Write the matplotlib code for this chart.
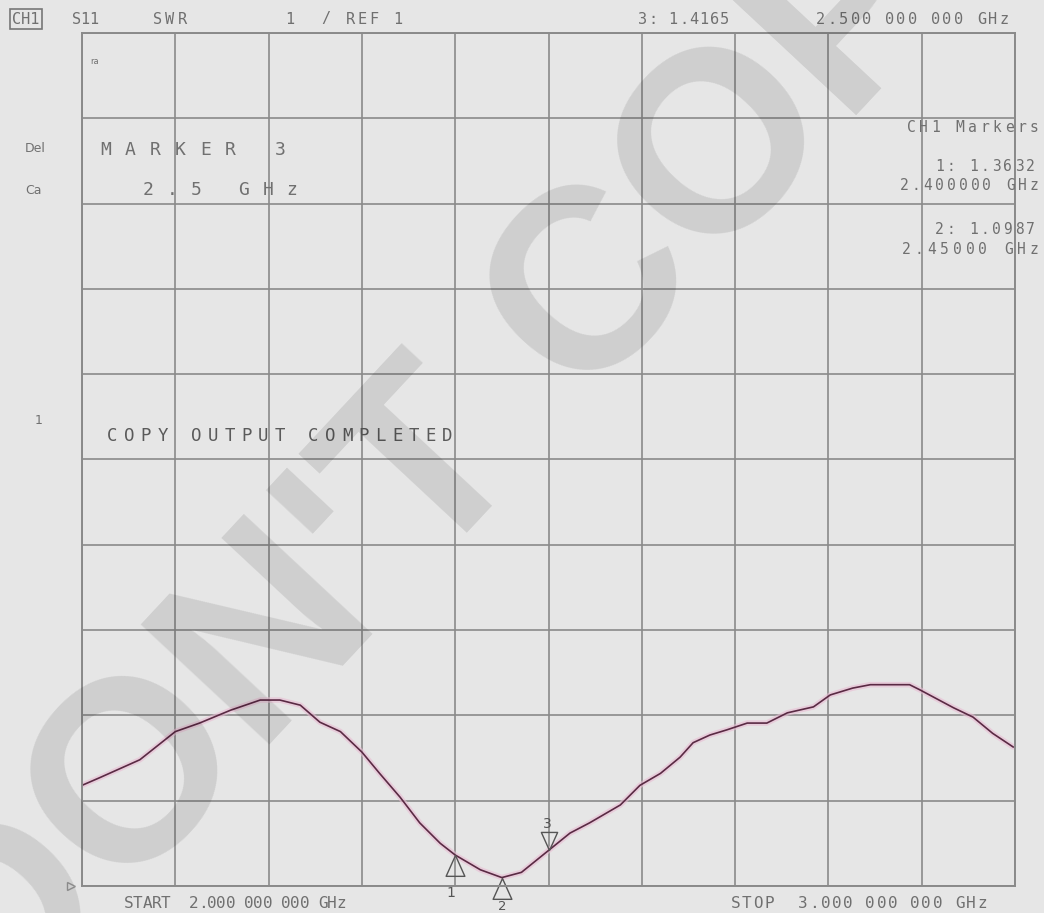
import numpy as np
import matplotlib
matplotlib.use('Agg')
import matplotlib.pyplot as plt

# S11 SWR trace (GHz, SWR)
freq = [2.000, 2.019, 2.062, 2.100, 2.126, 2.159, 2.191, 2.212, 2.234, 2.255,
        2.277, 2.300, 2.319, 2.341, 2.362, 2.384, 2.400, 2.427, 2.450, 2.471,
        2.500, 2.523, 2.544, 2.577, 2.598, 2.620, 2.641, 2.655, 2.673, 2.691,
        2.713, 2.734, 2.756, 2.784, 2.802, 2.826, 2.845, 2.887, 2.898, 2.934,
        2.955, 2.976, 2.998]
swr = [2.18, 2.27, 2.48, 2.81, 2.91, 3.06, 3.18, 3.18, 3.12, 2.92,
       2.81, 2.57, 2.32, 2.04, 1.74, 1.50, 1.3632, 1.19, 1.0987, 1.16,
       1.4165, 1.62, 1.74, 1.95, 2.18, 2.32, 2.51, 2.68, 2.77, 2.83,
       2.91, 2.91, 3.03, 3.10, 3.24, 3.32, 3.36, 3.36, 3.30, 3.09,
       2.98, 2.79, 2.63]

mk_freq = [2.40, 2.45, 2.50]
mk_swr = [1.3632, 1.0987, 1.4165]
mk_names = ['1', '2', '3']

bg = '#e6e6e6'
txt = '#707070'
mono = 'DejaVu Sans Mono'

fig = plt.figure(figsize=(10.44, 9.13), dpi=100, facecolor=bg)
ax = fig.add_axes([82/1044, 1-886/913, (1015-82)/1044, (886-33)/913])
ax.set_facecolor(bg)
ax.set_xlim(2.0, 3.0)
ax.set_ylim(1, 11)
ax.set_xticks(np.linspace(2.0, 3.0, 11))
ax.set_yticks(np.arange(1, 12))
ax.tick_params(length=0, labelbottom=False, labelleft=False)
ax.grid(True, color='#8a8a8a', lw=1.2)
for s in ax.spines.values():
    s.set_color('#8a8a8a')
    s.set_linewidth(1.4)

# trace with the pinkish halo of the screenshot
ax.plot(freq, swr, color='#e9bcd3', lw=4, alpha=0.6, solid_capstyle='round')
ax.plot(freq, swr, color='#5a2a44', lw=1.2)

# marker triangles anchored at their tip
up = [(0, 0), (-0.45, -1), (0.45, -1), (0, 0)]
down = [(0, 0), (-0.45, 1), (0.45, 1), (0, 0)]
ax.plot(mk_freq[:2], mk_swr[:2], ls='none', marker=up, ms=30,
        mfc='none', mec='#555555', mew=1.0, clip_on=False)
ax.plot(mk_freq[2:], mk_swr[2:], ls='none', marker=down, ms=26,
        mfc='none', mec='#555555', mew=1.0, clip_on=False)
ax.annotate(mk_names[0], (mk_freq[0], mk_swr[0]), xytext=(-3, -22),
            textcoords='offset points', ha='center', va='top',
            fontsize=10, color='#555555', annotation_clip=False)
ax.annotate(mk_names[1], (mk_freq[1], mk_swr[1]), xytext=(0, -16),
            textcoords='offset points', ha='center', va='top',
            fontsize=9.5, color='#555555', annotation_clip=False)
ax.annotate(mk_names[2], (mk_freq[2], mk_swr[2]), xytext=(-1, 14),
            textcoords='offset points', ha='center', va='bottom',
            fontsize=10, color='#555555', annotation_clip=False)

# reference position pointer at bottom left
ax.plot([1.988], [1.0], marker='>', ms=6, mfc='none', mec='#999999',
        clip_on=False)


def spaced(x0, x1, y, s, size=11, color=txt):
    # instrument font: one glyph per fixed cell between x0 and x1 (pixels)
    pitch = (x1 - x0) / len(s)
    for i, ch in enumerate(s):
        if ch == ' ':
            continue
        fig.text((x0 + (i + 0.5) * pitch) / 1044, 1 - y / 913, ch,
                 ha='center', va='center', family=mono, fontsize=size,
                 color=color)


# header line
fig.text(26/1044, 1-19/913, 'CH1', ha='center', va='center', family=mono,
         fontsize=11, color=txt,
         bbox=dict(boxstyle='square,pad=0.15', fc='none', ec='#777777', lw=1.2))
spaced(72, 98, 19, 'S11')
spaced(152, 188, 19, 'SWR')
spaced(284, 404, 19, '1  / REF 1')
spaced(637, 730, 19, '3: 1.4165')
spaced(815, 1010, 19, '2.500 000 000 GHz')

# left side labels
fig.text(25/1044, 1-148/913, 'Del', va='center', fontsize=9, color=txt)
fig.text(25/1044, 1-190/913, 'Ca', va='center', fontsize=9, color=txt)
fig.text(35/1044, 1-420/913, '1', va='center', fontsize=9, color=txt)
fig.text(90/1044, 1-62/913, 'ra', va='center', fontsize=6, color=txt)

# marker readout
spaced(93, 293, 150, 'MARKER 3', size=13)
spaced(136, 304, 190, '2.5 GHz', size=13)

spaced(905, 1040, 127, 'CH1 Markers', size=10.5)
spaced(934, 1036, 166, '1: 1.3632', size=10.5)
spaced(898, 1040, 186, '2.400000 GHz', size=10.5)
spaced(934, 1036, 229, '2: 1.0987', size=10.5)
spaced(900, 1040, 249, '2.45000 GHz', size=10.5)

spaced(104, 456, 436, 'COPY OUTPUT COMPLETED', size=12.5, color='#5a5a5a')

spaced(124, 346, 903, 'START  2.000 000 000 GHz', size=11.5)
spaced(730, 988, 903, 'STOP  3.000 000 000 GHz', size=11.5)

# watermark
fig.text(0.515, 0.499, "DON'T COPY", rotation=47, rotation_mode='anchor',
         ha='center', va='baseline', fontsize=185, fontweight='bold',
         family='Liberation Sans', color=(0, 0, 0, 0.1))

fig.savefig('out.png', dpi=100, facecolor=bg)
